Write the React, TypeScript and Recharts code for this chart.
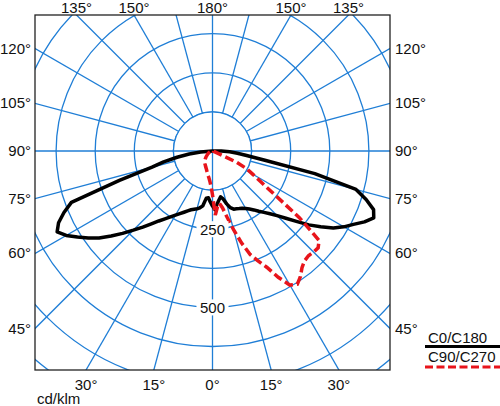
import React from 'react';
import { RadarChart, Radar, PolarGrid, PolarAngleAxis, PolarRadiusAxis } from 'recharts';

// luminous intensity (cd/klm) every 2.5° of gamma, from 0° (down) to 90° (horizontal)
const gammaStep = 2.5;
const c0 = [188, 170, 158, 149, 157, 175, 190, 198, 200, 203, 206, 212, 220, 230, 243, 256, 272, 292, 318, 350,
  388, 422, 458, 485, 508, 536, 558, 548, 515, 475, 335, 170, 110, 80, 55, 28, 0];
const c180 = [188, 176, 163, 150, 152, 178, 186, 191, 195, 200, 207, 216, 226, 237, 250, 265, 282, 304, 330, 358,
  390, 423, 457, 485, 512, 540, 560, 543, 514, 480, 312, 200, 160, 115, 75, 38, 0];
const c90 = [205, 180, 168, 185, 218, 260, 308, 352, 380, 410, 455, 495, 505, 490, 470, 458, 454, 457, 458, 445,
  350, 240, 182, 148, 125, 85, 10, 6, 5, 4, 4, 3, 3, 2, 2, 1, 0];
const c270 = [205, 140, 112, 97, 87, 80, 74, 68, 63, 59, 56, 53, 50, 48, 46, 43, 40, 37, 34, 31,
  28, 25, 22, 20, 18, 16, 14, 12, 10, 8, 7, 5, 4, 3, 2, 1, 0];

const ringValues = [125, 250, 375, 500, 625, 750, 875];
const downLabels = [250, 500];
const upLabels = [250];
const gridAngles = [0, 15, 30, 45, 60, 75, 90, 105, 120, 135, 150, 165, 180, 195, 210, 225, 240, 255, 270, 285, 300, 315, 330, 345];
const topTicks = [135, 150, 180];
const sideTicks = [120, 105, 90, 75, 60, 45];
const bottomTicks = [30, 15, 0];

// layout
const BOX = { left: 35, top: 15, size: 355 };
const CX = 212.5;
const CY = 151;
const OUTER = 273.7;
const RMAX = 875;
const BLUE = '#1f7ed6';
const FONT = '"Liberation Sans", Arial, sans-serif';

// full circle, counter-clockwise from straight down
const data: any[] = [];
for (let k = 0; k < 360 / gammaStep; k++) {
  const theta = k * gammaStep;
  const right = theta <= 180;
  const gamma = right ? theta : 360 - theta;
  const i = Math.round(gamma / gammaStep);
  data.push({
    a: theta,
    black: gamma <= 90 ? (right ? c0[i] : c180[i]) : 0,
    red: gamma <= 90 ? (right ? c90[i] : c270[i]) : 0,
  });
}

const makeTick = (show: number[]) => (props: any) => {
  const { x, y, payload } = props;
  if (!show.includes(payload.value)) return <g />;
  return (
    <g>
      <rect x={x - 16} y={y - 8} width={32} height={16} fill="#fff" />
      <text x={x} y={y + 5.5} textAnchor="middle" fontSize={15} fontFamily={FONT} fill="#111">
        {payload.value}
      </text>
    </g>
  );
};

const RAD = Math.PI / 180;
const dir = (gamma: number, side: number) => ({ dx: side * Math.sin(gamma * RAD), dy: Math.cos(gamma * RAD) });

const Labels = () => {
  const right = BOX.left + BOX.size;
  const bottom = BOX.top + BOX.size;
  const items: any[] = [];
  [-1, 1].forEach((side) => {
    topTicks.forEach((g) => {
      if (g === 180 && side > 0) return;
      const d = dir(g, side);
      const x = CX + ((BOX.top - CY) / d.dy) * d.dx;
      items.push(<text key={`t${g}${side}`} x={x} y={13} textAnchor="middle">{`${g}°`}</text>);
    });
    sideTicks.forEach((g) => {
      const d = dir(g, side);
      const edge = side < 0 ? BOX.left : right;
      const y = CY + ((edge - CX) / d.dx) * d.dy;
      items.push(
        <text key={`s${g}${side}`} x={side < 0 ? 31 : 395} y={y + 5} textAnchor={side < 0 ? 'end' : 'start'}>{`${g}°`}</text>
      );
    });
    bottomTicks.forEach((g) => {
      if (g === 0 && side > 0) return;
      const d = dir(g, side);
      const x = CX + ((bottom - CY) / d.dy) * d.dx;
      items.push(<text key={`b${g}${side}`} x={x} y={390} textAnchor="middle">{`${g}°`}</text>);
    });
  });
  return (
    <svg width={500} height={406} style={{ position: 'absolute', left: 0, top: 0 }} fontFamily={FONT} fontSize={15} fill="#111">
      <rect x={BOX.left} y={BOX.top} width={BOX.size} height={BOX.size} fill="none" stroke="#222" strokeWidth={1.3} />
      {items}
      <text x={37} y={403.5}>cd/klm</text>
      <text x={428} y={343}>C0/C180</text>
      <line x1={425} x2={500} y1={346.5} y2={346.5} stroke="#000" strokeWidth={3} />
      <text x={428} y={362}>C90/C270</text>
      <line x1={425} x2={500} y1={367} y2={367} stroke="#e8141b" strokeWidth={3} strokeDasharray="8 3.5" />
    </svg>
  );
};

export default function App() {
  const cx = CX - BOX.left;
  const cy = CY - BOX.top;
  const r1 = (OUTER * ringValues[0]) / RMAX;
  return (
    <div style={{ position: 'relative', width: 500, height: 406, background: '#fff' }}>
      <style>{'body{margin:0}'}</style>
      <div style={{ position: 'absolute', left: BOX.left, top: BOX.top, width: BOX.size, height: BOX.size, overflow: 'hidden' }}>
        <RadarChart
          width={BOX.size}
          height={BOX.size}
          data={data}
          cx={cx}
          cy={cy}
          outerRadius={OUTER}
          startAngle={-90}
          endAngle={270}
          margin={{ top: 0, right: 0, bottom: 0, left: 0 }}
        >
          <PolarGrid gridType="circle" polarAngles={gridAngles} stroke={BLUE} strokeWidth={1.3} />
          <g>
            <circle cx={cx} cy={cy} r={r1} fill="#fff" stroke={BLUE} strokeWidth={1.3} />
            <line x1={cx - r1} x2={cx + r1} y1={cy} y2={cy} stroke={BLUE} strokeWidth={1.3} />
            <line x1={cx} x2={cx} y1={cy - r1} y2={cy + r1} stroke={BLUE} strokeWidth={1.3} />
          </g>
          <PolarAngleAxis dataKey="a" tick={false} axisLine={false} tickLine={false} />
          <PolarRadiusAxis
            angle={-90}
            type="number"
            domain={[0, RMAX]}
            ticks={ringValues}
            axisLine={false}
            tickLine={false}
            tick={makeTick(downLabels)}
          />
          <PolarRadiusAxis
            radiusAxisId="up"
            angle={90}
            type="number"
            domain={[0, RMAX]}
            ticks={ringValues}
            axisLine={false}
            tickLine={false}
            tick={makeTick(upLabels)}
          />
          <Radar dataKey="black" stroke="#000" strokeWidth={3.5} fill="none" dot={false} strokeLinejoin="round" isAnimationActive={false} />
          <Radar dataKey="red" stroke="#e8141b" strokeWidth={3.5} fill="none" dot={false} strokeDasharray="9 4" isAnimationActive={false} />
        </RadarChart>
      </div>
      <Labels />
    </div>
  );
}
